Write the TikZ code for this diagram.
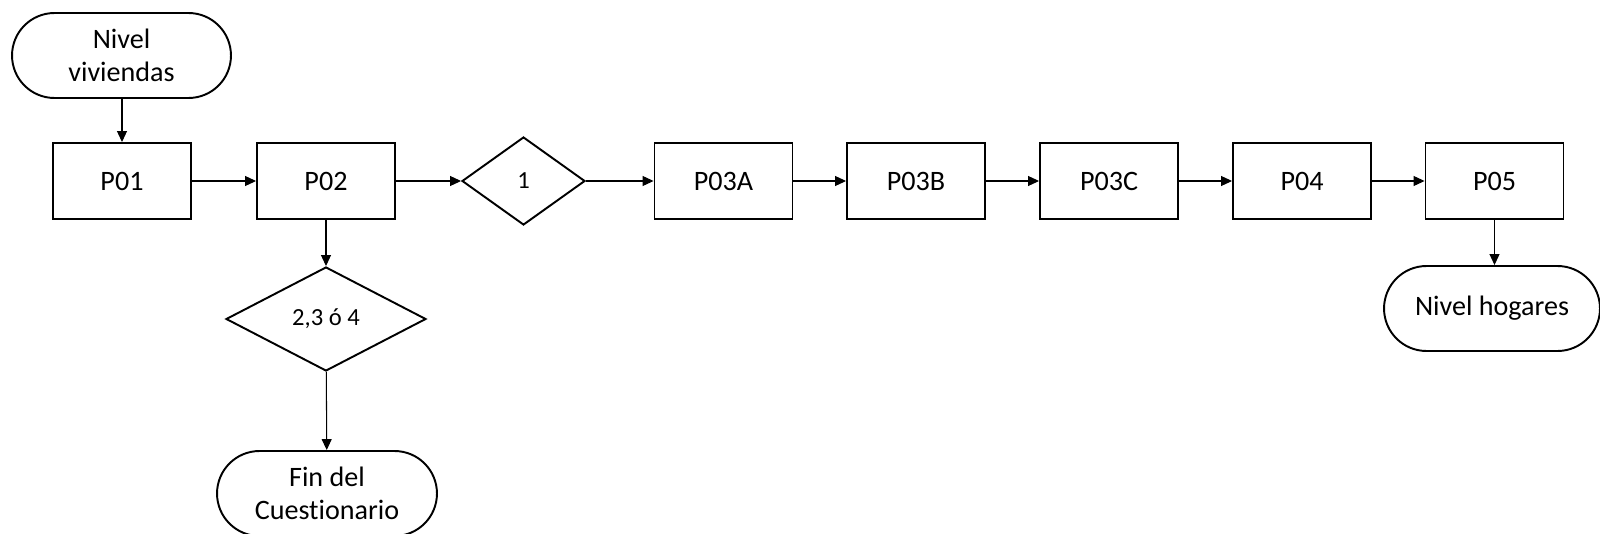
\documentclass[tikz,border=0pt]{standalone}
\usepackage{fontspec}
\setmainfont{Carlito}[Ligatures={NoCommon}]
\usetikzlibrary{arrows.meta,shapes.geometric}

\tikzset{
  caja/.style={draw=black, line width=1.1pt, minimum width=2.76cm, minimum height=1.52cm, font=\fontsize{16}{19}\selectfont},
  terminal/.style={draw=black, line width=1.1pt, rounded corners=0.85cm, minimum height=1.7cm, align=center, font=\fontsize{16}{19}\selectfont},
  decision/.style={draw=black, line width=1.1pt, diamond, inner sep=0pt, font=\fontsize{14}{17}\selectfont},
  flecha/.style={line width=0.6pt, -{Triangle[length=0.22cm, width=0.2cm]}}
}

\begin{document}
\begin{tikzpicture}[x=0.02cm, y=-0.02cm]
            \useasboundingbox (0,0) rectangle (1600,534);

            \node[terminal, minimum width=4.38cm] (viviendas) at (121.5,55.5) {Nivel\\viviendas};
            \node[caja] (p01) at (122,181) {P01};
            \node[caja] (p02) at (326,181) {P02};
            \node[decision, minimum width=2.46cm, minimum height=1.76cm] (uno) at (523.5,181) {1};
            \node[caja] (p03a) at (723.5,181) {P03A};
            \node[caja] (p03b) at (916,181) {P03B};
            \node[caja] (p03c) at (1109,181) {P03C};
            \node[caja] (p04) at (1302,181) {P04};
            \node[caja] (p05) at (1494.5,181) {P05};
            \node[terminal, minimum width=4.32cm] (hogares) at (1492,308.5) {Nivel hogares};
            \node[decision, minimum width=4cm, minimum height=2.08cm] (otros) at (326,319) {2,3 ó 4};
            \node[terminal, minimum width=4.4cm] (fin) at (327,493.5) {Fin del\\Cuestionario};

            \draw[flecha] (viviendas.south -| p01.north) -- (p01.north);
            \draw[flecha] (p01) -- (p02);
            \draw[flecha] (p02) -- (uno);
            \draw[flecha] (uno) -- (p03a);
            \draw[flecha] (p03a) -- (p03b);
            \draw[flecha] (p03b) -- (p03c);
            \draw[flecha] (p03c) -- (p04);
            \draw[flecha] (p04) -- (p05);
            \draw[flecha] (p05.south) -- (p05.south |- hogares.north);
            \draw[flecha] (p02) -- (otros);
            \draw[flecha] (otros) -- (fin);
        \end{tikzpicture}
\end{document}
